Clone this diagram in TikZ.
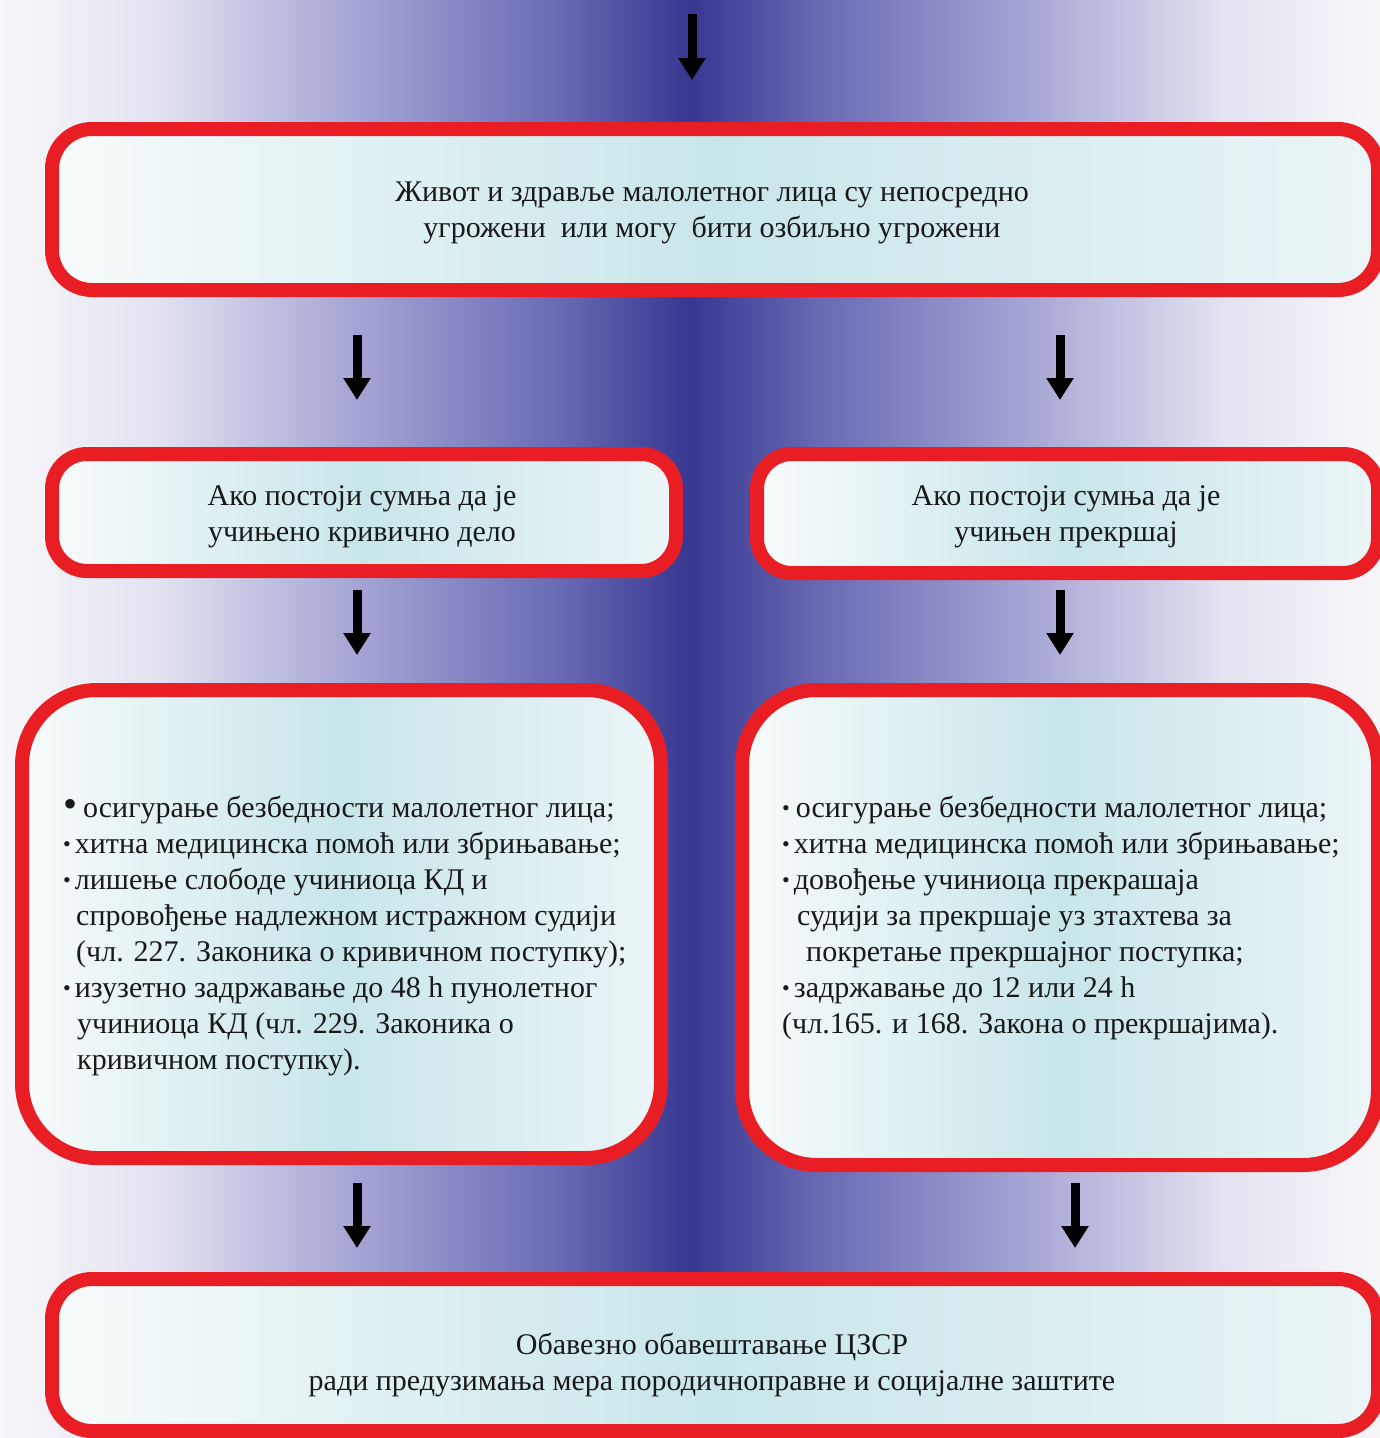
\documentclass[tikz,border=0pt]{standalone}
\usepackage{fontspec}
\setmainfont{Liberation Serif}
\usetikzlibrary{arrows.meta}
\definecolor{bg0}{RGB}{247,247,250}
\definecolor{bg1}{RGB}{228,228,241}
\definecolor{bg2}{RGB}{168,168,214}
\definecolor{bg3}{RGB}{108,108,182}
\definecolor{bg4}{RGB}{55,55,145}
\definecolor{boxred}{RGB}{233,30,36}
\definecolor{boxw}{RGB}{248,251,251}
\definecolor{boxc}{RGB}{200,230,234}
\definecolor{boxw2}{RGB}{236,245,247}
\definecolor{txt}{RGB}{25,25,25}
\pgfdeclarehorizontalshading{bgshade}{100bp}{color(0bp)=(bg0); color(25bp)=(bg0); color(30.5bp)=(bg1); color(37.5bp)=(bg2); color(45bp)=(bg3); color(50bp)=(bg4); color(55bp)=(bg3); color(62.5bp)=(bg2); color(69.5bp)=(bg1); color(75bp)=(bg0); color(100bp)=(bg0)}
\newcommand\mybul{\raisebox{2pt}{\fontsize{22}{22}\selectfont •}}
\tikzset{
  redbox/.style={draw=boxred, line width=14pt, left color=boxw, right color=boxw2, middle color=boxc, inner sep=0pt},
  ctext/.style={font=\fontsize{30}{36}\selectfont, text=txt, align=center, inner sep=0pt},
  btext/.style={font=\fontsize{30}{36}\selectfont, text=txt, align=left, inner sep=0pt, anchor=north west},
  arr/.style={line width=9pt, draw=black, -{Triangle[width=26pt,length=22pt]}}
}
\begin{document}
\begin{tikzpicture}[x=1pt,y=-1pt]
\useasboundingbox (0,0) rectangle (1380,1438);
\clip (0,0) rectangle (1380,1438);
\shade[shading=bgshade] (0,0) rectangle (1380,1438);

\node[redbox, rounded corners=40pt, minimum width=1326pt, minimum height=161pt] (top) at (715,209.5) {};
\node[redbox, rounded corners=35pt, minimum width=624pt, minimum height=117pt] (lm) at (364,512.5) {};
\node[redbox, rounded corners=35pt, minimum width=621pt, minimum height=119pt] (rm) at (1067.5,513.5) {};
\node[redbox, rounded corners=75pt, minimum width=639pt, minimum height=468pt] (lb) at (341.5,924) {};
\node[redbox, rounded corners=75pt, minimum width=636pt, minimum height=475pt] (rb) at (1060,927.5) {};
\node[redbox, rounded corners=40pt, minimum width=1326pt, minimum height=152pt] (bot) at (715,1355) {};

\node[ctext] (topt) at (712,213) {Живот и здравље малолетног лица су непосредно\\угрожени\ \ или могу\ \ бити озбиљно угрожени};
\node[ctext] (lmt) at (362,517) {Ако постоји сумња да је\\учињено кривично дело};
\node[ctext] (rmt) at (1066,517) {Ако постоји сумња да је\\учињен прекршај};
\node[ctext] (bott) at (712,1365) {Обавезно обавештавање ЦЗСР\\ради предузимања мера породичноправне и социјалне заштите};

\node[btext] (lbt) at (63,796) {%
{\fontsize{40}{36}\selectfont •}\hspace{6pt}осигурање безбедности малолетног лица;\\
\mybul\hspace{4pt}хитна медицинска помоћ или збрињавање;\\
\mybul\hspace{4pt}лишење слободе учиниоца КД и\\
\hspace*{13pt}спровођење надлежном истражном судији\\
\hspace*{13pt}(чл. 227. Законика о кривичном поступку);\\
\mybul\hspace{4pt}изузетно задржавање до 48 h пунолетног\\
\hspace*{14pt}учиниоца КД (чл. 229. Законика о\\
\hspace*{14pt}кривичном поступку).};

\node[btext] (rbt) at (782,796) {%
\mybul\hspace{6pt}осигурање безбедности малолетног лица;\\
\mybul\hspace{4pt}хитна медицинска помоћ или збрињавање;\\
\mybul\hspace{4pt}довођење учиниоца прекрашаја\\
\hspace*{15pt}судији за прекршаје уз зтахтева за\\
\hspace*{24pt}покретање прекршајног поступка;\\
\mybul\hspace{4pt}задржавање до 12 или 24 h\\
(чл.165. и 168. Закона о прекршајима).};

\coordinate (start) at (692,14);
\coordinate (cl) at (357,0);
\coordinate (cr) at (1060,0);
\coordinate (cr2) at (1075,0);

\draw[arr, shorten >=42pt] (start) -- (top.north -| start);
\draw[arr, shorten <=38pt, shorten >=47pt] (top.south -| cl) -- (lm.north -| cl);
\draw[arr, shorten <=38pt, shorten >=47pt] (top.south -| cr) -- (rm.north -| cr);
\draw[arr, shorten <=12pt, shorten >=28pt] (lm.south -| cl) -- (lb.north -| cl);
\draw[arr, shorten <=10pt, shorten >=28pt] (rm.south -| cr) -- (rb.north -| cr);
\draw[arr, shorten <=18pt, shorten >=24pt] (lb.south -| cl) -- (bot.north -| cl);
\draw[arr, shorten <=11pt, shorten >=24pt] (rb.south -| cr2) -- (bot.north -| cr2);
\end{tikzpicture}
\end{document}
